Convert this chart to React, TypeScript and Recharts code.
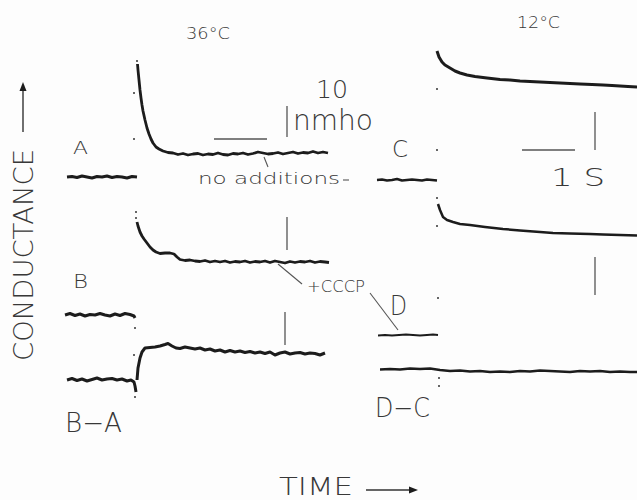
import { ComposedChart, Line, Scatter, XAxis, YAxis } from "recharts";

const W = 637;
const H = 500;
const INK = "#1c1c1c";
const TEXT = "#383838";
const FONT = "'DejaVu Sans', 'Liberation Sans', sans-serif";

// recorder traces, [time, level] in plot units (level axis runs downwards)
const aBase = [[67,177],[72,176.5],[77,177.5],[82,176],[87,177],[92,178],[97,176.5],[102,177],[107,176],[112,177.5],[117,176.5],[122,177],[127,178],[132,176.5],[137,177]];
const aResp = [[137.5,64],[138,70],[139,80],[140,90],[141,98],[142,105],[143,111],[145,120],[147,128],[149,134],[151,139],[153,143],[156,147],[159,149],[163,151],[168,152.5],[173,153],[178,154.5],[183,153.5],[188,155],[193,154],[198,153.5],[203,155],[208,154],[213,154.5],[218,153],[223,154.5],[228,155],[233,153.5],[238,154],[243,153],[248,154.5],[253,153.5],[258,152],[263,153],[268,154],[273,153.5],[278,152.5],[283,154],[288,153],[293,152],[298,153.5],[303,152.5],[308,153],[313,151.5],[318,153],[323,152],[328,153]];
const bBase = [[65,315],[70,313.5],[75,315.5],[80,314],[85,316],[90,314.5],[95,315],[100,313.5],[105,315],[110,316],[115,314],[120,315.5],[125,313.5],[130,314.5],[134,316],[135,318]];
const bResp = [[137,222],[138,226],[140,232],[142,236],[144,239],[147,243],[150,247],[153,250],[156,252],[160,253.5],[165,253],[170,253],[174,254],[177,257],[180,259.5],[185,260.5],[190,260],[195,261],[200,261.5],[205,260.5],[210,262],[215,261],[220,262],[225,261],[230,262.5],[235,261.5],[240,262],[245,261],[250,262.5],[255,261.5],[260,262],[265,261],[270,262.5],[275,261],[280,262],[285,263],[290,261.5],[295,262.5],[300,261.5],[305,262],[310,261],[315,262.5],[320,261.5],[325,262],[329,262.5]];
const baBase = [[67,380],[72,378.5],[77,380.5],[82,379],[87,381],[92,379.5],[97,378],[102,380],[107,379],[112,378.5],[117,380],[122,379],[127,381],[131,380],[134,382],[135,386],[136,392]];
const baResp = [[137,380],[138,368],[140,358],[142,352],[145,348],[150,347.5],[155,347],[160,346],[165,344.5],[168,343.5],[172,346],[176,348],[180,348.5],[185,347],[190,348],[195,349],[200,348],[205,350],[210,349],[215,351],[220,350],[225,352],[230,350.5],[235,352],[240,351],[245,352.5],[250,351.5],[255,353],[260,352],[265,353.5],[270,352],[275,355],[280,353],[285,352],[290,354],[295,353],[300,352.5],[305,354],[310,353],[315,353.5],[320,355],[325,353]];
const cBase = [[377,180],[382,179.5],[387,180.5],[392,180],[397,179],[402,180.5],[407,180],[412,179.5],[417,180],[422,180.5],[427,179.5],[432,180],[437,180.5]];
const cResp = [[437,51],[439,57],[442,62],[445,65],[450,68],[455,71],[460,73],[467,75],[475,76.5],[487,78],[500,79.5],[510,80],[520,81],[530,81.5],[540,82],[550,82.5],[560,83],[570,83.5],[580,84],[592,84.5],[603,85],[612,85.5],[620,86],[628,86.5],[637,87]];
const dBase = [[378,335.5],[385,335],[392,335.5],[399,335],[406,334.5],[413,335],[420,335.5],[427,335],[433,334.5],[438,335]];
const dResp = [[438,204],[440,210],[443,217],[447,220],[453,222],[460,224],[470,225],[485,227],[503,229],[520,230.5],[540,232],[553,233],[570,233.5],[590,234],[603,234.5],[620,235],[637,235.5]];
const dcDiff = [[380,369.5],[390,369],[400,369.5],[410,368.5],[420,369],[430,368.5],[440,370],[450,371],[460,370.5],[470,371.5],[480,371],[490,372],[500,371.5],[510,372],[520,371],[530,371.5],[540,370.5],[550,371],[560,371.5],[570,372],[580,371],[590,371.5],[600,371],[610,372],[620,371.5],[630,372],[637,372]];

// stray time-marker dots of the plotter
const markDots = [[137,61],[134,93],[134,139],[136,212],[136,218],[135,328],[134,355],[135,397],[437,89],[437,150],[437,198],[437,226],[438,298],[439,378],[439,386]];

// scale bars and pointers: [x1, y1, x2, y2]
const scaleBars = [[214,139,267,139],[287,106,287,137],[287,217,287,250],[285,312,285,345],[522,150,575,150],[595,112,595,150],[595,257,595,295]];
const pointers = [[264,157,268,167],[278,264,302,284],[370,293,398,330],[343,180,349,180]];
// axis arrows: [tip x, tip y, direction, shaft length]
const axisArrows = [[23,82,"up",50],[418,490,"right",52]];

// labels: [x, baseline, text, font size, text length, rotation]
const labels = [
  [186,39,"36°C",15,44,0],
  [517,28,"12°C",15,43,0],
  [316,98,"10",25,32,0],
  [293,130,"nmho",28,80,0],
  [73,154,"A",17,15,0],
  [198,184,"no additions",16,142,0],
  [392,157,"C",23,16,0],
  [551,186,"1 S",25,54,0],
  [73,288,"B",20,15,0],
  [307,292,"+CCCP",15,58,0],
  [390,315,"D",27,17,0],
  [65,432,"B−A",26,57,0],
  [375,417,"D−C",26,55,0],
  [279,495,"TIME",25,74,0],
  [33,361,"CONDUCTANCE",26,212,-90],
];

const pts = (a: number[][]) => a.map(([x, y]) => ({ x, y }));

const traces = [
  { key: "aBase", data: pts(aBase), w: 3 },
  { key: "aResp", data: pts(aResp), w: 2.8 },
  { key: "bBase", data: pts(bBase), w: 3 },
  { key: "bResp", data: pts(bResp), w: 2.8 },
  { key: "baBase", data: pts(baBase), w: 3 },
  { key: "baResp", data: pts(baResp), w: 3 },
  { key: "cBase", data: pts(cBase), w: 2.4 },
  { key: "cResp", data: pts(cResp), w: 3 },
  { key: "dBase", data: pts(dBase), w: 1.8 },
  { key: "dResp", data: pts(dResp), w: 2.5 },
  { key: "dcDiff", data: pts(dcDiff), w: 2.5 },
];

const segs = (a: number[][]) => a.map(([x1, y1, x2, y2]) => [{ x: x1, y: y1 }, { x: x2, y: y2 }]);

const TextShape = (props: any) => {
  const { cx, cy, payload } = props;
  const rot = payload.rot ? `rotate(${payload.rot} ${cx} ${cy})` : undefined;
  return (
    <text
      x={cx}
      y={cy}
      transform={rot}
      fontFamily={FONT}
      fontWeight={200}
      fontSize={payload.size}
      textLength={payload.len}
      lengthAdjust="spacingAndGlyphs"
      fill={TEXT}
    >
      {payload.text}
    </text>
  );
};

const ArrowShape = (props: any) => {
  const { cx, cy, payload } = props;
  const len = payload.len;
  if (payload.dir === "up") {
    return (
      <g>
        <line x1={cx} y1={cy + 6} x2={cx} y2={cy + len} stroke="#333" strokeWidth={1.4} />
        <polygon points={`${cx},${cy} ${cx - 3.5},${cy + 9} ${cx + 3.5},${cy + 9}`} fill={INK} />
      </g>
    );
  }
  return (
    <g>
      <line x1={cx - len} y1={cy} x2={cx - 6} y2={cy} stroke="#333" strokeWidth={1.4} />
      <polygon points={`${cx},${cy} ${cx - 9},${cy - 3.5} ${cx - 9},${cy + 3.5}`} fill={INK} />
    </g>
  );
};

const DotShape = (props: any) => <circle cx={props.cx} cy={props.cy} r={1} fill="#333" />;

export default function App() {
  return (
    <div style={{ position: "absolute", left: 0, top: 0, width: W, height: H, background: "#fdfdfd" }}>
      <ComposedChart width={W} height={H} margin={{ top: 0, right: 0, bottom: 0, left: 0 }}>
        <XAxis type="number" dataKey="x" domain={[0, W]} hide allowDataOverflow />
        <YAxis type="number" dataKey="y" domain={[0, H]} reversed hide allowDataOverflow />
        {traces.map((t) => (
          <Line
            key={t.key}
            data={t.data}
            dataKey="y"
            type="linear"
            stroke={INK}
            strokeWidth={t.w}
            strokeLinejoin="round"
            dot={false}
            isAnimationActive={false}
          />
        ))}
        {segs(scaleBars).map((d, i) => (
          <Line key={`bar${i}`} data={d} dataKey="y" stroke="#555" strokeWidth={1.3} dot={false} isAnimationActive={false} />
        ))}
        {segs(pointers).map((d, i) => (
          <Line key={`ptr${i}`} data={d} dataKey="y" stroke="#555" strokeWidth={1.1} dot={false} isAnimationActive={false} />
        ))}
        <Scatter data={pts(markDots)} dataKey="y" shape={DotShape} isAnimationActive={false} />
        <Scatter
          data={axisArrows.map(([x, y, dir, len]) => ({ x, y, dir, len }))}
          dataKey="y"
          shape={ArrowShape}
          isAnimationActive={false}
        />
        <Scatter
          data={labels.map(([x, y, text, size, len, rot]) => ({ x, y, text, size, len, rot }))}
          dataKey="y"
          shape={TextShape}
          isAnimationActive={false}
        />
      </ComposedChart>
    </div>
  );
}
